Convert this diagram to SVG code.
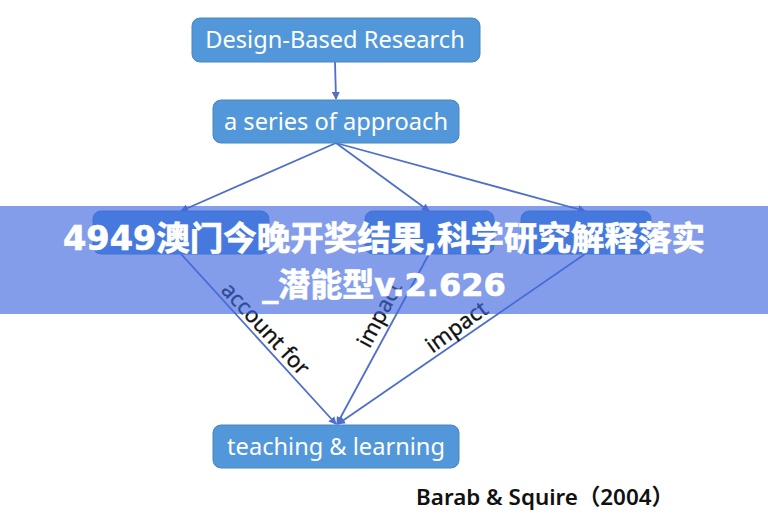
<svg xmlns="http://www.w3.org/2000/svg" width="768" height="520" viewBox="0 0 768 520">
<style>
.n{fill:#5297d9;stroke:#4a86c0;stroke-width:1}
.t{font-family:"Noto Sans","Noto Sans CJK SC",sans-serif;font-size:23.6px;fill:#fff;text-anchor:middle}
.c{fill:none;stroke:#4f6fc8;stroke-width:1.8;marker-end:url(#a)}
.l{font-family:"Noto Sans","Noto Sans CJK SC",sans-serif;font-size:22px;fill:#111;text-anchor:middle;stroke:#111;stroke-width:.3}
.b{font-family:"DejaVu Sans","Noto Sans CJK SC",sans-serif;font-weight:700;font-size:33.5px;fill:#fff;text-anchor:middle;stroke:#fff;stroke-width:.7}
</style>
<defs><marker id="a" markerWidth="8" markerHeight="8" refX="7" refY="4" orient="auto" markerUnits="userSpaceOnUse"><path d="M0 0L8 4L0 8Z" fill="#4f6fc8"/></marker></defs>
<rect width="768" height="520" fill="#fff"/>
<g id="connectors">
<path class="c" d="M335 62L336 99"/>
<path class="c" d="M336 143L181 211"/>
<path class="c" d="M336 143L429 211"/>
<path class="c" d="M336 143L585 211"/>
<path class="c" d="M181 254L336 424"/>
<path class="c" d="M429 254L337 424"/>
<path class="c" d="M585 254L338 424"/>
</g>
<g id="n1"><rect class="n" x="192" y="18" width="288" height="44" rx="8"/><text class="t" x="335" y="48">Design-Based Research</text></g>
<g id="n2"><rect class="n" x="213" y="100" width="246" height="43" rx="8"/><text class="t" x="336" y="130">a series of approach</text></g>
<g id="n3"><rect class="n" x="93" y="211" width="176" height="43" rx="8"/></g>
<g id="n4"><rect class="n" x="365" y="211" width="129" height="43" rx="8"/></g>
<g id="n5"><rect class="n" x="521" y="211" width="130" height="43" rx="8"/></g>
<g id="n6"><rect class="n" x="213" y="425" width="246" height="43" rx="8"/><text class="t" x="336" y="455">teaching &amp; learning</text></g>
<text class="l" transform="translate(260 334) rotate(47)">account for</text>
<text class="l" transform="translate(386 318) rotate(-62)">impact</text>
<text class="l" transform="translate(461 333) rotate(-36)">impact</text>
<text x="545" y="505" text-anchor="middle" font-family="Noto Sans,Noto Sans CJK SC,sans-serif" font-size="22.4" font-weight="600" fill="#111">Barab &amp; Squire（2004）</text>
<rect x="0" y="206" width="768" height="108" fill="#4169e1" fill-opacity=".65"/>
<text class="b" x="384" y="250">4949澳门今晚开奖结果,科学研究解释落实</text>
<text class="b" x="384" y="296" style="font-size:32px">_潜能型v.2.626</text>
</svg>
